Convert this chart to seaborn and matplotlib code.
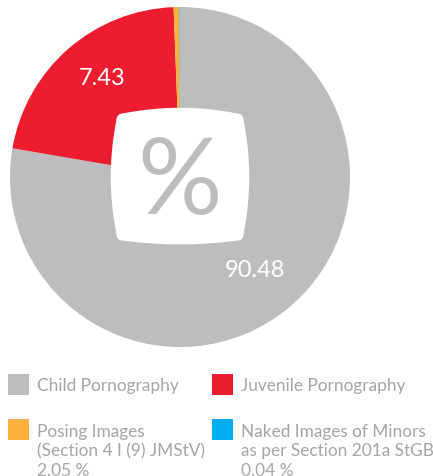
import numpy as np
import seaborn as sns
import matplotlib.pyplot as plt
from matplotlib.path import Path
from matplotlib.patches import PathPatch, Rectangle

# categories, in drawing order (clockwise from 12 o'clock)
categories = ["Child Pornography", "Juvenile Pornography",
              "Posing Images\n(Section 4 I (9) JMStV)\n2.05 %",
              "Naked Images of Minors\nas per Section 201a StGB\n0.04 %"]
# wedge shares as drawn in the reference picture
drawn_shares = [77.7, 21.7, 0.55, 0.05]
# the numbers printed on the wedges
wedge_labels = ["90.48", "7.43"]
colors = ["#bbbdbe", "#ed1c2e", "#fbb040", "#00aeef"]

TEXT_GRAY = "#a3a5a8"
W, H = 433, 476


def main():
    sns.set_theme(style="white")
    plt.rcParams['font.family'] = ['Lato', 'DejaVu Sans']

    fig = plt.figure(figsize=(W / 100, H / 100), dpi=100)
    fig.patch.set_facecolor("white")

    # pie: centre at (180, 177) px from top-left, radius 170 px
    cx, cy, r = 180, 177, 170
    ax = fig.add_axes([(cx - r) / W, (H - cy - r) / H, 2 * r / W, 2 * r / H])
    ax.pie(drawn_shares, colors=colors, startangle=90, counterclock=False,
           wedgeprops=dict(linewidth=0))
    ax.set_xlim(-1, 1)
    ax.set_ylim(-1, 1)
    ax.set_aspect("equal")
    ax.axis("off")

    # white "screen" shape in the middle
    k, e, b = 0.375, 0.33, 0.44
    verts = [(-e, k), (0, b), (e, k), (k, k), (k, e),
             (b, 0), (k, -e), (k, -k), (e, -k),
             (0, -b + 0.02), (-e, -k), (-k, -k), (-k, -e),
             (-b, 0), (-k, e), (-k, k), (-e, k)]
    codes = [Path.MOVETO] + [Path.CURVE3] * 16
    ax.add_patch(PathPatch(Path(verts, codes), facecolor="white",
                           edgecolor="none", zorder=3))
    ax.text(0, -0.04, "%", ha="center", va="center", fontsize=76,
            color=colors[0], zorder=4)

    # wedge value labels
    ax.text(-0.46, 0.58, wedge_labels[1], ha="center", va="center",
            fontsize=17, color="white")
    ax.text(0.44, -0.55, wedge_labels[0], ha="center", va="center",
            fontsize=17, color="white")

    # legend, two columns
    sq = 21
    box_x = [8, 212]
    box_y = [374, 419]
    for i, (name, col) in enumerate(zip(categories, colors)):
        row, c = divmod(i, 2)
        x0, y0 = box_x[c], box_y[row]
        fig.patches.append(Rectangle((x0 / W, 1 - (y0 + sq) / H), sq / W, sq / H,
                                     transform=fig.transFigure, facecolor=col,
                                     edgecolor="none"))
        if row == 0:
            fig.text((x0 + 29) / W, 1 - (y0 + sq / 2 + 1) / H, name,
                     ha="left", va="center", fontsize=12.4,
                     color=TEXT_GRAY)
        else:
            fig.text((x0 + 29) / W, 1 - (y0 + 5) / H, name,
                     ha="left", va="top", fontsize=12.4, linespacing=1.25,
                     color=TEXT_GRAY)

    fig.savefig("out.png", dpi=100, facecolor="white")


if __name__ == "__main__":
    main()
